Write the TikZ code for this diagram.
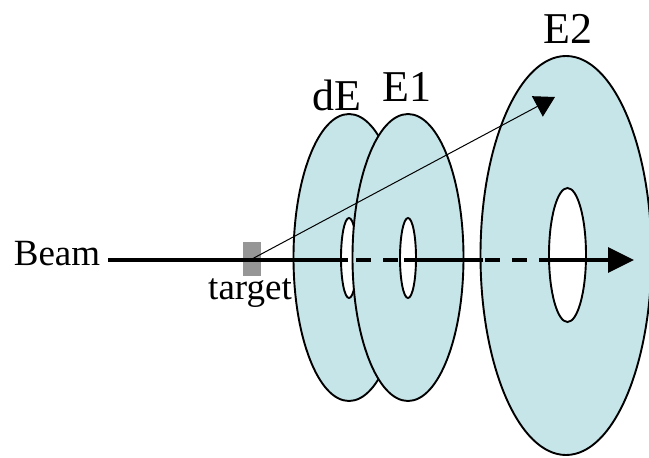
\documentclass[tikz,border=0pt]{standalone}
\usepackage{fontspec}
\setmainfont{Liberation Serif}
\usetikzlibrary{shapes.geometric,arrows.meta}
\tikzset{
  disc/.style={ellipse,draw=black,line width=1.9pt,fill=discblue,inner sep=0pt,outer sep=0pt},
  hole/.style={ellipse,draw=black,line width=1.9pt,fill=white,inner sep=0pt,outer sep=0pt},
  lab/.style={inner sep=0pt,font=\fontsize{37}{37}\selectfont},
  biglab/.style={inner sep=0pt,font=\fontsize{44}{44}\selectfont},
  beamline/.style={line width=3.6pt},
}
\definecolor{discblue}{RGB}{198,229,233}
\begin{document}
\begin{tikzpicture}[x=1pt,y=-1pt]
\useasboundingbox (0,0) rectangle (649,458);
\node[disc,minimum width=111pt,minimum height=287pt] (dE) at (349,257.5) {};
\node[hole,minimum width=16pt,minimum height=80pt] (dEhole) at (349,258) {};
\node[disc,minimum width=111pt,minimum height=287pt] (E1) at (408,257.5) {};
\node[hole,minimum width=16pt,minimum height=80pt] (E1hole) at (408,258) {};
\node[disc,minimum width=171pt,minimum height=399pt] (E2) at (566,255.5) {};
\node[hole,minimum width=37pt,minimum height=134pt] (E2hole) at (567.5,255) {};
\node[rectangle,fill=black!41,minimum width=18pt,minimum height=34pt,inner sep=0pt] (target) at (252,259) {};
\node[lab,anchor=base] (beamlab) at (57,265) {Beam};
\node[lab,anchor=base] (targetlab) at (250,299) {target};
\node[biglab,anchor=base] (dElab) at (337,110) {dE};
\node[biglab,anchor=base] (E1lab) at (407,101) {E1};
\node[biglab,anchor=base] (E2lab) at (568,43) {E2};
\coordinate (beamstart) at (108,260);
\coordinate (d1) at (348,260);
\coordinate (d2) at (404,260);
\coordinate (d3) at (483,260);
\coordinate (d4) at (553,260);
\coordinate (beamend) at (634,260);
\coordinate (scat) at (555,97);
\draw[beamline] (beamstart) -- (d1);
\draw[beamline,dash pattern=on 15pt off 12pt,dash phase=-8pt] (d1) -- (d2);
\draw[beamline] (d2) -- (d3);
\draw[beamline,dash pattern=on 15pt off 12pt,dash phase=-2pt] (d3) -- (d4);
\draw[beamline,-{Triangle[length=26pt,width=25pt]}] (d4) -- (beamend);
\draw[line width=1pt,-{Triangle[length=20pt,width=23pt]}] (target.center) -- (scat);
\end{tikzpicture}
\end{document}
